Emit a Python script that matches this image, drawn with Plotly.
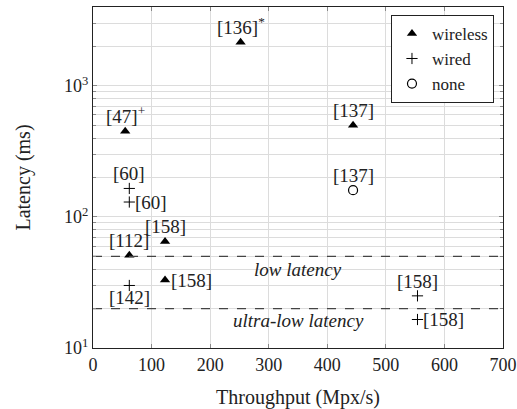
import math
import plotly.graph_objects as go

# ---- data ----
wireless_x = [252, 55, 444, 123, 62, 123]
wireless_y = [2150, 450, 500, 65, 51, 33]
wireless_lbl = ["[136]<sup>*</sup>", "[47]<sup>+</sup>", "[137]", "[158]", "[112]", "[158]"]

wired_x = [62, 62, 62, 554, 554]
wired_y = [165, 130, 30, 25, 16.5]
wired_lbl = ["[60]", "[60]", "[142]", "[158]", "[158]"]

none_x = [444]
none_y = [160]
none_lbl = ["[137]"]

thresholds = [50, 20]
threshold_lbl = ["low latency", "ultra-low latency"]
threshold_lbl_x = [350, 350]
threshold_lbl_y = [40, 16.3]

x_ticks = [0, 100, 200, 300, 400, 500, 600, 700]
y_ticks = [10, 100, 1000]
y_ticktext = ["10<sup>1</sup>", "10<sup>2</sup>", "10<sup>3</sup>"]
y_minor = [v * m for v in (10, 100, 1000) for m in range(2, 10) if v * m <= 4000]

# label placement (style, not data)
wireless_pos = ["above", "above", "above", "above", "above", "right"]
wired_pos = ["above", "right", "below", "above", "right"]
none_pos = ["above"]

FONT = "Liberation Serif"
TXT = "#222"
fig = go.Figure()

fig.add_trace(go.Scatter(x=wireless_x, y=wireless_y, mode="markers", name="wireless",
                         marker=dict(symbol="triangle-up", size=9, color="black")))
fig.add_trace(go.Scatter(x=wired_x, y=wired_y, mode="markers", name="wired",
                         marker=dict(symbol="cross-thin", size=8, color="black",
                                     line=dict(width=1, color="black"))))
fig.add_trace(go.Scatter(x=none_x, y=none_y, mode="markers", name="none",
                         marker=dict(symbol="circle-open", size=9, color="black",
                                     line=dict(width=1.2, color="black"))))

for t in thresholds:
    fig.add_trace(go.Scatter(x=[0, 700], y=[t, t], mode="lines", showlegend=False,
                             hoverinfo="skip",
                             line=dict(color="#444", width=1.2, dash="dash")))

def add_labels(xs, ys, labels, pos):
    for x, y, lab, p in zip(xs, ys, labels, pos):
        kw = dict(x=x, y=math.log10(y), text=lab, showarrow=False,
                  font=dict(family=FONT, size=19, color=TXT))
        if p == "above":
            kw.update(yanchor="bottom", xanchor="center", yshift=2)
        elif p == "below":
            kw.update(yanchor="top", xanchor="center", yshift=0)
        elif p == "right":
            kw.update(xanchor="left", yanchor="middle", xshift=4)
        fig.add_annotation(**kw)

add_labels(wireless_x, wireless_y, wireless_lbl, wireless_pos)
add_labels(wired_x, wired_y, wired_lbl, wired_pos)
add_labels(none_x, none_y, none_lbl, none_pos)

for tx, ty, tl in zip(threshold_lbl_x, threshold_lbl_y, threshold_lbl):
    fig.add_annotation(x=tx, y=math.log10(ty), text=f"<i>{tl}</i>", showarrow=False,
                       font=dict(family=FONT, size=19, color=TXT))

grid = "#dcdcdc"
fig.update_layout(
    width=517, height=409,
    margin=dict(l=93, r=14, t=7, b=61),
    paper_bgcolor="white", plot_bgcolor="white",
    font=dict(family=FONT, size=18, color=TXT),
    showlegend=True,
    legend=dict(x=0.978, y=0.977, xanchor="right", yanchor="top",
                bgcolor="white", bordercolor="#222", borderwidth=1,
                font=dict(family=FONT, size=17), itemwidth=30, tracegroupgap=0),
    xaxis=dict(range=[0, 700], tickvals=x_ticks, showgrid=True, gridcolor=grid,
               gridwidth=1, zeroline=False, showline=True, linecolor="#222",
               linewidth=1, mirror="ticks", ticks="inside", ticklen=4,
               tickcolor="#888", tickfont=dict(size=18), automargin=False,
               title=dict(text="Throughput (Mpx/s)", font=dict(size=20), standoff=18)),
    yaxis=dict(type="log", range=[1, math.log10(4000)], tickvals=y_ticks,
               ticktext=y_ticktext, showgrid=True, gridcolor=grid, gridwidth=1,
               zeroline=False, showline=True, linecolor="#222", linewidth=1,
               mirror="ticks", ticks="inside", ticklen=4, tickcolor="#888",
               tickfont=dict(size=18), automargin=False,
               minor=dict(tickvals=y_minor, showgrid=True, gridcolor=grid,
                          ticks="inside", ticklen=3, tickcolor="#888"),
               title=dict(text="Latency (ms)", font=dict(size=20), standoff=28)),
)

fig.write_html("out.html", config={"displayModeBar": False},
               post_script="document.body.style.margin='0';")
